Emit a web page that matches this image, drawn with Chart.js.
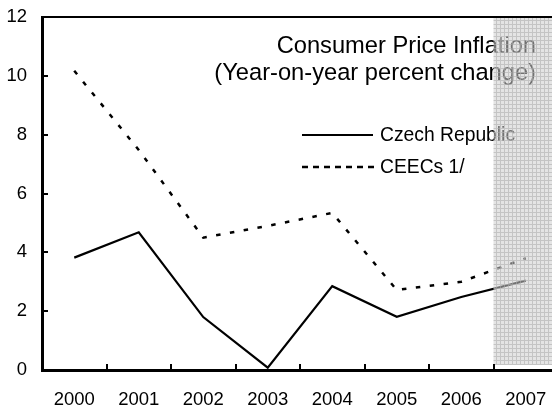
<!DOCTYPE html>
<html>
<head>
<meta charset="utf-8">
<script src="https://cdn.jsdelivr.net/npm/chart.js@4.4.0/dist/chart.umd.min.js"></script>
<style>
  html, body { margin: 0; padding: 0; overflow: hidden; background: #fff; }
  #wrap { width: 552px; height: 410px; overflow: hidden; }
  canvas { display: block; }
</style>
</head>
<body>
<div id="wrap"><canvas id="c" width="560" height="410"></canvas></div>
<script>
const years = ['2000', '2001', '2002', '2003', '2004', '2005', '2006', '2007'];
const czechRepublic = [3.82, 4.68, 1.80, 0.08, 2.85, 1.81, 2.48, 3.04];
const ceecs = [10.17, 7.48, 4.50, 4.90, 5.34, 2.72, 3.00, 3.80];
const yTicks = [0, 2, 4, 6, 8, 10, 12];
const titleLines = ['Consumer Price Inflation', '(Year-on-year percent change)'];
const legendLabels = ['Czech Republic', 'CEECs 1/'];
const projectionStart = '2007';

const FONT = "'Liberation Sans', Arial, Helvetica, sans-serif";

function makePattern(ctx) {
  const p = document.createElement('canvas');
  p.width = 4; p.height = 4;
  const c = p.getContext('2d');
  c.fillStyle = 'rgba(205,205,205,0.55)';
  c.fillRect(0, 0, 4, 4);
  c.fillStyle = 'rgba(175,175,175,0.6)';
  c.fillRect(0, 0, 4, 1);
  c.fillRect(0, 1, 1, 3);
  return ctx.createPattern(p, 'repeat');
}

function zeroPad(s) {
  s.paddingTop = 0; s.paddingBottom = 0; s.paddingLeft = 0; s.paddingRight = 0;
}

const decor = {
  id: 'decor',
  afterDatasetsDraw(chart) {
    const ctx = chart.ctx;
    ctx.save();
    ctx.setLineDash([]);
    ctx.fillStyle = '#000';
    ctx.strokeStyle = '#000';
    ctx.font = '23.7px ' + FONT;
    ctx.textAlign = 'right';
    ctx.textBaseline = 'middle';
    ctx.fillText(titleLines[0], 536, 46);
    ctx.fillText(titleLines[1], 536, 73);
    ctx.font = '19.3px ' + FONT;
    ctx.textAlign = 'left';
    ctx.fillText(legendLabels[0], 380, 136);
    ctx.fillText(legendLabels[1], 380, 168);
    ctx.lineWidth = 2.2;
    ctx.beginPath();
    ctx.moveTo(302, 135);
    ctx.lineTo(373, 135);
    ctx.stroke();
    ctx.lineWidth = 2.5;
    ctx.setLineDash([6, 5]);
    ctx.beginPath();
    ctx.moveTo(302, 167);
    ctx.lineTo(376, 167);
    ctx.stroke();
    ctx.restore();
  },
  afterDraw(chart) {
    const ctx = chart.ctx;
    const area = chart.chartArea;
    const xs = chart.scales.x;
    const ys = chart.scales.y;
    const idx = years.indexOf(projectionStart);
    const x0 = (xs.getPixelForValue(idx - 1) + xs.getPixelForValue(idx)) / 2;
    ctx.save();
    ctx.fillStyle = makePattern(ctx);
    ctx.fillRect(x0, area.top + 1, area.right - x0, area.bottom - 5 - area.top - 1);
    ctx.strokeStyle = '#000';
    ctx.lineWidth = 2;
    ctx.beginPath();
    yTicks.forEach(v => {
      if (v === 0 || v === 12) return;
      const y = Math.round(ys.getPixelForValue(v));
      ctx.moveTo(area.left, y);
      ctx.lineTo(area.left + 6, y);
    });
    for (let i = 0; i < years.length - 1; i++) {
      const x = Math.round((xs.getPixelForValue(i) + xs.getPixelForValue(i + 1)) / 2);
      ctx.moveTo(x, area.bottom);
      ctx.lineTo(x, area.bottom - 6);
    }
    ctx.stroke();
    ctx.restore();
  }
};

new Chart(document.getElementById('c'), {
  type: 'line',
  data: {
    labels: years,
    datasets: [
      {
        label: legendLabels[0],
        data: czechRepublic,
        borderColor: '#000',
        borderWidth: 2.2,
        pointRadius: 0,
        tension: 0,
        fill: false
      },
      {
        label: legendLabels[1],
        data: ceecs,
        borderColor: '#000',
        borderWidth: 2.5,
        borderDash: [4.5, 9.5],
        pointRadius: 0,
        tension: 0,
        fill: false
      }
    ]
  },
  options: {
    responsive: false,
    animation: false,
    events: [],
    layout: { padding: { top: 0, right: 2, left: 0, bottom: 0 } },
    plugins: { legend: { display: false }, title: { display: false }, tooltip: { enabled: false } },
    scales: {
      x: {
        type: 'category',
        offset: true,
        grid: { display: false, drawTicks: false },
        border: { display: true, color: '#000', width: 3 },
        ticks: { color: '#000', font: { family: FONT, size: 18.5 }, padding: 19, maxRotation: 0, autoSkip: false },
        afterFit(s) { s.height = 40; zeroPad(s); }
      },
      xTop: {
        type: 'category',
        position: 'top',
        offset: true,
        grid: { display: false, drawTicks: false },
        border: { display: true, color: '#000', width: 2 },
        ticks: { display: false },
        afterFit(s) { s.height = 17; zeroPad(s); }
      },
      y: {
        min: 0,
        max: 12,
        afterBuildTicks(s) { s.ticks = yTicks.map(v => ({ value: v })); },
        grid: { display: false, drawTicks: false },
        border: { display: true, color: '#000', width: 3 },
        ticks: { color: '#000', font: { family: FONT, size: 18.5 }, padding: 15 },
        afterFit(s) { s.width = 42; zeroPad(s); }
      }
    }
  },
  plugins: [decor]
});
</script>
</body>
</html>
